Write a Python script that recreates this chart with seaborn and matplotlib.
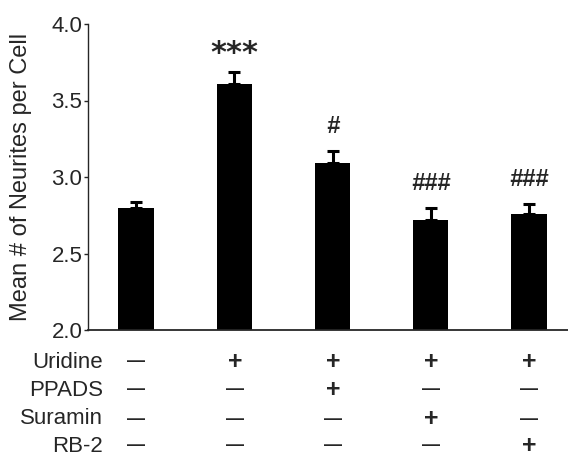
import matplotlib
matplotlib.use("Agg")
import matplotlib.pyplot as plt
import seaborn as sns
import pandas as pd
import numpy as np

groups = ["G1", "G2", "G3", "G4", "G5"]
means = [2.80, 3.61, 3.09, 2.72, 2.76]
errors = [0.035, 0.075, 0.08, 0.08, 0.065]
annotations = ["", "***", "#", "###", "###"]
row_labels = ["Uridine", "PPADS", "Suramin", "RB-2"]
treatments = [
    ["\u2014", "+", "+", "+", "+"],
    ["\u2014", "\u2014", "+", "\u2014", "\u2014"],
    ["\u2014", "\u2014", "\u2014", "+", "\u2014"],
    ["\u2014", "\u2014", "\u2014", "\u2014", "+"],
]

sns.set_style("ticks")
plt.rcParams["font.family"] = ["Liberation Sans", "DejaVu Sans"]

W, H = 568, 459
fig = plt.figure(figsize=(W / 100, H / 100), dpi=100)
ax = fig.add_axes([88 / W, (H - 330) / H, (W - 88) / W, (330 - 24) / H])

df = pd.DataFrame({"group": groups, "mean": means})
sns.barplot(data=df, x="group", y="mean", color="black", width=0.36,
            edgecolor="black", linewidth=0, ax=ax, errorbar=None)
for p in ax.patches:
    p.set_facecolor("black")

x = np.arange(len(groups))
ax.errorbar(x, means, yerr=[np.zeros(len(errors)), errors], fmt="none",
            ecolor="black", elinewidth=2.2, capsize=4.5, capthick=2.2)

for xi, m, e, a in zip(x, means, errors, annotations):
    if not a:
        continue
    if a == "***":
        ax.text(xi, m + e + 0.12, a, ha="center", va="center",
                fontsize=22, fontweight="bold", family="DejaVu Sans")
    else:
        ax.text(xi, m + e + 0.16, a, ha="center", va="center",
                fontsize=17, style="italic", fontweight="bold")

ax.set_ylim(2.0, 4.0)
ax.set_xlim(-0.489, 4.397)
ax.set_yticks([2.0, 2.5, 3.0, 3.5, 4.0])
ax.set_yticklabels(["2.0", "2.5", "3.0", "3.5", "4.0"], fontsize=16)
ax.set_xticks([])
ax.set_xlabel("")
ax.set_ylabel("Mean # of Neurites per Cell", fontsize=17, labelpad=14)
ax.tick_params(axis="y", length=3, width=1, pad=1)
sns.despine(ax=ax, top=True, right=True)
ax.spines["left"].set_linewidth(1)
ax.spines["bottom"].set_linewidth(1.3)

row_y = [362, 390, 419, 446]
col_x = [136, 235, 333, 431, 529]
for ry, lab, syms in zip(row_y, row_labels, treatments):
    fig.text(103 / W, 1 - ry / H, lab, ha="right", va="center", fontsize=16)
    for cx, s in zip(col_x, syms):
        if s == "+":
            fig.text(cx / W, 1 - ry / H, s, ha="center", va="center",
                     fontsize=18, fontweight="bold")
        else:
            fig.text(cx / W, 1 - ry / H, s, ha="center", va="center",
                     fontsize=13, fontweight="bold")

fig.savefig("out.png", dpi=100)
